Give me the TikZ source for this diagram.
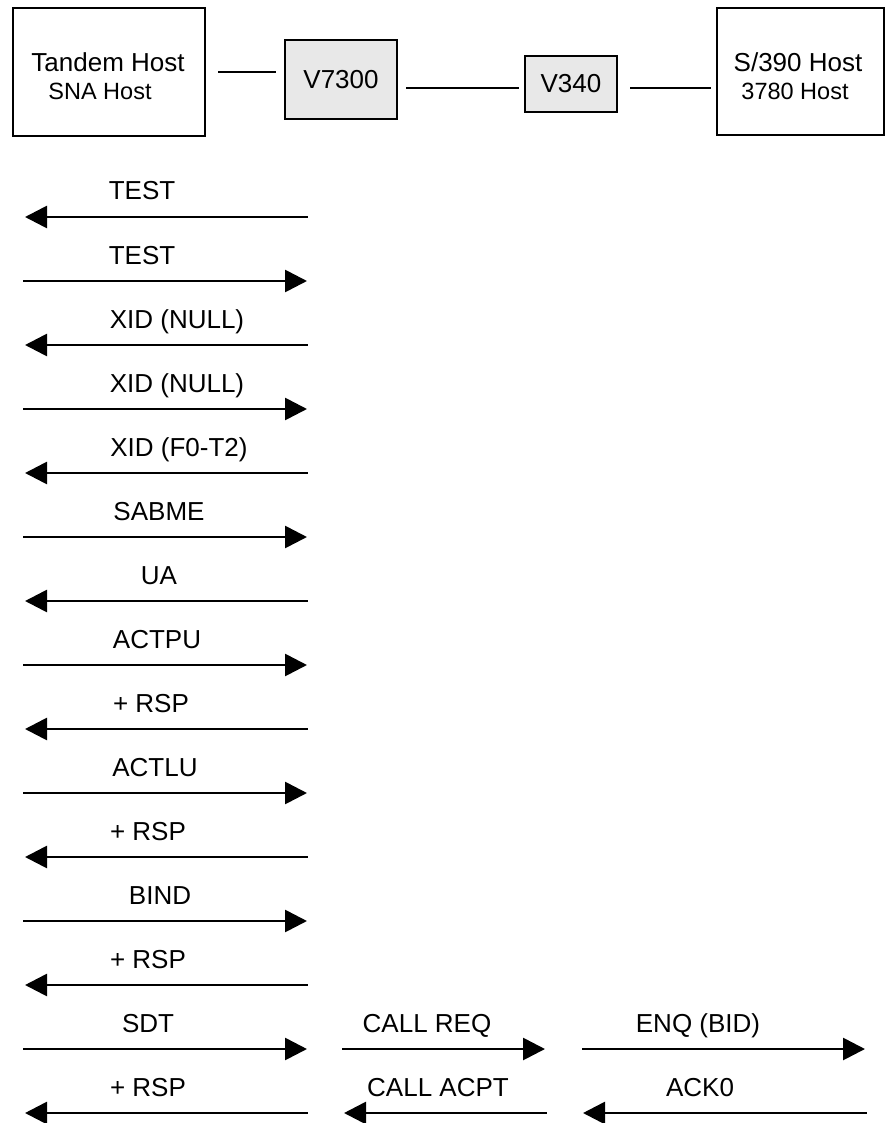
\documentclass[tikz,border=0pt]{standalone}
\usepackage{fontspec}
\setmainfont{Liberation Sans}
\usetikzlibrary{positioning,arrows.meta}
\definecolor{relayfill}{RGB}{232,232,232}
\newcommand{\smallhost}{\fontsize{23.5}{28}\selectfont}

\begin{document}
\begin{tikzpicture}[x=1pt, y=-1pt,
  font=\fontsize{26}{30}\selectfont,
  host/.style={draw, line width=2.7pt, inner sep=0pt},
  relay/.style={host, fill=relayfill},
  link/.style={line width=2.7pt},
  msg/.style={anchor=base, inner sep=0pt},
  tol/.style={{Triangle[length=22pt,width=22pt]}-, line width=2.7pt},
  tor/.style={-{Triangle[length=22pt,width=22pt]}, line width=2.7pt}]
\useasboundingbox (0,0) rectangle (886,1123);

% stations along the top
\node[host, minimum width=192pt, minimum height=128pt] (tandem) at (109,72) {};
\node[msg] (tandemA) at (108,72) {Tandem Host};
\node[msg] (tandemB) at (100,100) {\smallhost SNA Host};
\node[relay, minimum width=112pt, minimum height=79pt] (v7300) at (341,79.5) {V7300};
\node[relay, minimum width=92pt, minimum height=56pt] (v340) at (571,84) {V340};
\node[host, minimum width=167pt, minimum height=127pt] (s390) at (800.5,71.5) {};
\node[msg] (s390A) at (798,72) {S/390 Host};
\node[msg] (s390B) at (795,100) {\smallhost 3780 Host};
\draw[link, shorten <=12pt, shorten >=8pt] (tandem.east) -- (tandem.east -| v7300.west);
\draw[link, shorten <=8pt, shorten >=5pt] ([yshift=-4pt]v340.west -| v7300.east) -- ([yshift=-4pt]v340.west);
\draw[link, shorten <=12pt, shorten >=5pt] ([yshift=-4pt]v340.east) -- ([yshift=-4pt]v340.east -| s390.west);

% host to V7300 exchange
\foreach \i/\lx/\txt in {1/142/TEST, 3/177/XID (NULL), 5/179/XID (F0-T2), 7/159/UA,
    9/151/+ RSP, 11/148/+ RSP, 13/148/+ RSP, 15/148/+ RSP} {
  \coordinate (a\i) at (25,153+64*\i);
  \coordinate (b\i) at (308,153+64*\i);
  \node[msg] (m\i) at (\lx,136+64*\i) {\txt};
  \draw[tol] (a\i) -- (b\i);
}
\foreach \i/\lx/\txt in {2/142/TEST, 4/177/XID (NULL), 6/159/SABME, 8/157/ACTPU,
    10/155/ACTLU, 12/160/BIND, 14/148/SDT} {
  \coordinate (a\i) at (23,153+64*\i);
  \coordinate (b\i) at (307,153+64*\i);
  \node[msg] (m\i) at (\lx,136+64*\i) {\txt};
  \draw[tor] (a\i) -- (b\i);
}

% X.25 call and bisync bid
\coordinate (c14) at (342,1049);
\coordinate (d14) at (545,1049);
\coordinate (e14) at (582,1049);
\coordinate (f14) at (865,1049);
\coordinate (c15) at (344,1113);
\coordinate (d15) at (547,1113);
\coordinate (e15) at (583,1113);
\coordinate (f15) at (867,1113);
\node[msg] (callreq) at (427,1032) {CALL REQ};
\node[msg] (enq) at (698,1032) {ENQ (BID)};
\node[msg] (callacpt) at (438,1096) {CALL ACPT};
\node[msg] (ack) at (700,1096) {ACK0};
\draw[tor] (c14) -- (d14);
\draw[tor] (e14) -- (f14);
\draw[tol] (c15) -- (d15);
\draw[tol] (e15) -- (f15);
\end{tikzpicture}
\end{document}
